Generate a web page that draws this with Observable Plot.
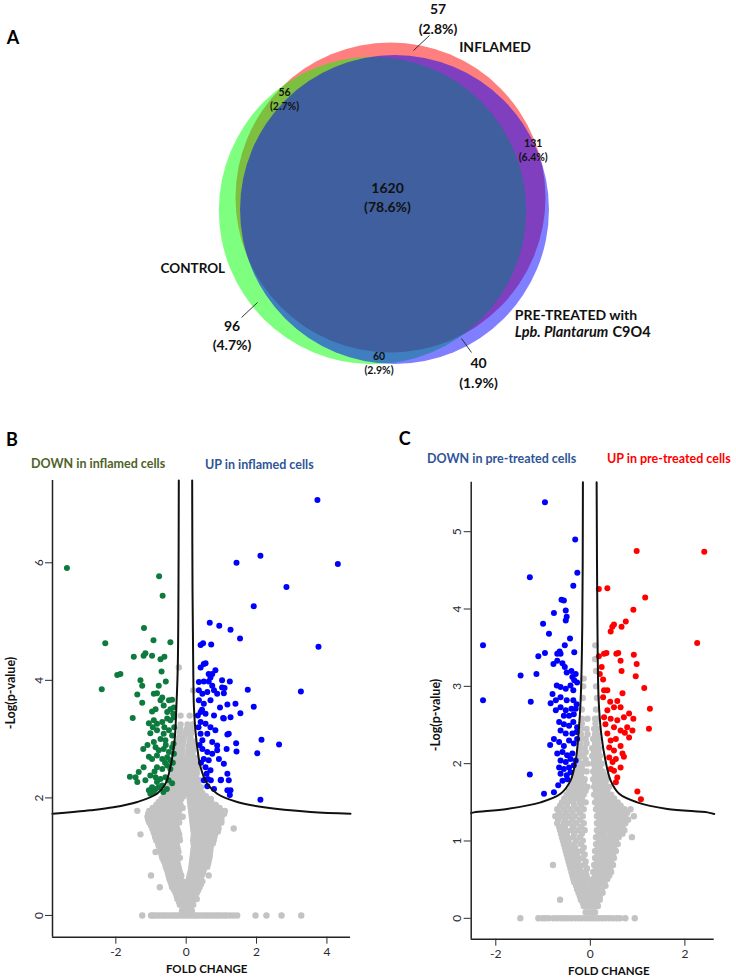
<!DOCTYPE html>
<html><head><meta charset="utf-8">
<script src="https://cdn.jsdelivr.net/npm/d3@7"></script>
<script src="https://cdn.jsdelivr.net/npm/@observablehq/plot@0.6"></script>
<style>
body{margin:0;background:#fff;}
#fig{position:relative;width:736px;height:978px;overflow:hidden;font-family:Lato,sans-serif;}
#fig svg{position:absolute;overflow:visible;}
</style></head><body><div id="fig"></div>
<script>
// ---------------- DATA ----------------
// Venn (panel A)
const vennSets = ["INFLAMED", "CONTROL", "PRE-TREATED"];
const vennSetKeys = ["I", "C", "P"];
const regionKeys = ["I", "C", "P", "IC", "IP", "CP", "ICP"];
const regionCounts = [57, 96, 40, 56, 131, 60, 1620];
const regionPct = ["2.8%", "4.7%", "1.9%", "2.7%", "6.4%", "2.9%", "78.6%"];

// Volcano B: inflamed vs control
const greenB = [[-3.39,5.91],[-0.77,5.77],[-0.67,5.44],[-1.20,4.89],[-2.30,4.63],[-0.93,4.68],[-0.45,4.65],
[-1.49,4.40],[-1.21,4.42],[-1.16,4.46],[-0.97,4.42],[-0.73,4.36],[-0.62,4.40],
[-1.96,4.09],[-1.87,4.11],[-0.70,4.15],[-2.40,3.85],[-1.30,4.0],[-1.25,3.91],[-0.78,3.91],[-0.58,3.98],
[-1.39,3.76],[-0.92,3.77],[-0.83,3.78],[-0.68,3.71],[-0.73,3.66],[-0.49,3.66],[-0.40,3.67],[-1.25,3.62],
[-0.97,3.47],[-0.87,3.51],[-0.64,3.57],[-0.54,3.46],[-0.45,3.51],[-0.35,3.54],[-0.37,3.43],[-1.52,3.36],
[-1.06,3.27],[-0.92,3.32],[-0.83,3.26],[-0.68,3.29],[-0.54,3.35],[-0.45,3.32],[-0.35,3.37],
[-1.02,3.10],[-0.83,3.15],[-0.64,3.09],[-0.49,3.15],[-0.40,3.06],[-0.73,3.00],[-0.59,2.98],
[-1.22,2.83],[-0.87,2.86],[-0.78,2.81],[-0.64,2.83],[-0.49,2.78],[-0.40,2.86],
[-1.06,2.70],[-0.97,2.66],[-0.83,2.72],[-0.68,2.66],[-0.54,2.69],[-0.45,2.64],[-0.35,2.75],
[-1.21,2.52],[-0.83,2.52],[-0.68,2.49],[-0.54,2.55],[-0.45,2.49],
[-1.60,2.36],[-1.44,2.35],[-1.35,2.44],[-1.16,2.30],[-1.39,2.27],
[-1.02,2.38],[-0.87,2.35],[-0.73,2.32],[-0.59,2.35],[-0.83,2.27],[-0.68,2.21],[-0.97,2.18],[-0.87,2.15],[-0.78,2.18],
[-1.06,2.13],[-0.92,2.10],[-1.02,2.07],
[-0.40,2.25],[-0.50,2.30],[-0.38,2.60],[-0.36,2.92],[-0.34,3.20],[-0.55,2.15],[-0.65,2.10],[-0.60,2.60],[-0.58,2.90],[-0.62,3.20],[-0.92,2.95],[-0.95,3.20],[-1.10,2.90],[-0.90,2.45]];

const blueB = [[3.73,7.07],[2.11,6.12],[1.43,6.00],[4.31,5.98],[2.85,5.59],[1.92,5.26],[0.67,4.98],[0.94,4.93],[1.26,4.86],[1.53,4.71],[3.76,4.57],
[0.41,4.60],[0.48,4.63],[0.71,4.61],
[0.41,4.22],[0.50,4.28],[0.55,4.29],[0.64,4.11],[0.83,4.17],[0.69,4.05],[0.74,4.11],
[0.36,3.97],[0.50,3.98],[0.64,3.98],[0.74,3.91],[1.02,4.0],[1.02,3.88],[1.24,3.98],[1.75,3.84],[3.26,3.81],
[0.36,3.83],[0.46,3.77],[0.60,3.80],[0.88,3.77],[1.07,3.78],[0.79,3.83],[1.09,3.87],
[0.36,3.66],[0.50,3.60],[0.69,3.66],[0.96,3.54],[1.17,3.59],[1.40,3.60],[1.92,3.55],[1.54,3.44],
[0.41,3.46],[0.55,3.43],[0.79,3.40],[1.07,3.35],[1.26,3.37],[1.05,3.36],
[0.41,3.29],[0.55,3.26],[0.69,3.20],[0.83,3.15],[0.60,3.09],[0.41,3.09],[1.21,3.09],[1.17,3.08],
[2.14,2.99],[2.64,2.91],[2.02,2.76],
[0.46,2.98],[0.74,2.95],[0.88,2.89],[1.15,2.83],[1.42,2.93],[1.43,2.79],[0.46,2.83],[0.60,2.78],[0.74,2.75],[0.88,2.81],
[0.50,2.66],[0.64,2.64],[0.93,2.66],[1.07,2.58],[1.17,2.41],[0.55,2.52],[0.69,2.47],[0.98,2.30],[0.79,2.15],[1.17,2.13],[1.24,2.05],[2.11,1.97],
[0.58,2.41],[0.61,2.32],[1.21,2.30],[1.26,2.13],[0.99,2.31],
[0.35,3.20],[0.38,2.90],[0.42,2.60],[0.50,2.30],[0.60,2.20],[0.70,2.30],[0.45,3.50],[0.33,3.40]];

// grey (not significant) points, rows: [y, x, x, ...]
const greyRowsB = [
[0,-1.25,-1.0,-0.95,-0.88,-0.8,-0.72,-0.65,-0.58,-0.5,-0.42,-0.35,-0.28,-0.2,-0.12,-0.05,0.02,0.1,0.18,0.25,0.32,0.4,0.48,0.55,0.62,0.7,0.78,0.85,0.92,1.0,1.08,1.15,1.25,1.35,1.45,1.97,2.28,2.71,3.27],
[0.08,-0.12,-0.05,0.03,0.1,0.16],
[0.13,-0.08,0.0,0.08],
[0.18,-0.18,-0.1,-0.02,0.06,0.14,0.2],
[0.23,-0.2,-0.12,-0.04,0.02,0.1,0.18],
[0.28,-0.25,-0.15,-0.06,0.04,0.12,0.22,0.3],
[0.33,-0.27,-0.18,-0.08,0.0,0.08,0.16,0.25],
[0.38,-0.3,-0.2,-0.1,0.0,0.1,0.2,0.3],
[0.43,-0.34,-0.24,-0.14,-0.04,0.04,0.14,0.24,0.34],
[0.48,-0.75,-0.4,-0.28,-0.16,-0.06,0.06,0.18,0.28,0.38],
[0.53,-0.42,-0.32,-0.2,-0.08,0.1,0.22,0.32,0.42],
[0.58,-0.45,-0.34,-0.22,-0.1,0.04,0.14,0.26,0.36,0.46],
[0.63,-0.48,-0.38,-0.28,-0.16,0.08,0.18,0.3,0.4],
[0.68,-1.0,-0.5,-0.38,-0.26,-0.14,0.1,0.2,0.32,0.44,0.64],
[0.73,-0.52,-0.42,-0.3,-0.18,0.12,0.24,0.36,0.48],
[0.78,-0.55,-0.44,-0.32,-0.2,0.14,0.26,0.38,0.5],
[0.83,-0.58,-0.46,-0.34,-0.22,0.15,0.27,0.39,0.51,0.6],
[0.88,-0.6,-0.48,-0.36,-0.24,0.16,0.28,0.4,0.52,0.62],
[0.93,-0.64,-0.52,-0.4,-0.26,0.17,0.29,0.41,0.53,0.64],
[0.98,-0.68,-0.56,-0.44,-0.3,-0.18,0.18,0.3,0.42,0.54,0.66],
[1.03,-0.7,-0.58,-0.46,-0.33,0.19,0.31,0.43,0.55,0.67],
[1.08,-0.87,-0.72,-0.6,-0.48,-0.36,-0.22,0.2,0.32,0.44,0.56,0.68],
[1.13,-0.74,-0.62,-0.5,-0.38,-0.24,0.21,0.33,0.45,0.57,0.69],
[1.18,-0.78,-0.66,-0.52,-0.4,-0.26,0.22,0.34,0.46,0.58,0.7],
[1.23,-0.8,-0.68,-0.55,-0.42,-0.28,0.21,0.32,0.44,0.56,0.68,0.76],
[1.28,-0.85,-0.72,-0.58,-0.44,-0.3,-0.18,0.2,0.3,0.42,0.54,0.66,0.78],
[1.33,-0.88,-0.74,-0.6,-0.46,-0.32,-0.2,0.21,0.32,0.44,0.56,0.68,0.8],
[1.38,-1.3,-0.9,-0.76,-0.62,-0.48,-0.34,-0.2,0.22,0.34,0.46,0.58,0.7,0.82],
[1.43,-0.93,-0.79,-0.65,-0.51,-0.37,-0.23,0.21,0.33,0.45,0.57,0.69,0.81,0.9],
[1.48,-0.96,-0.82,-0.68,-0.54,-0.4,-0.26,0.2,0.32,0.44,0.56,0.68,0.8,0.92,1.35],
[1.53,-1.0,-0.86,-0.72,-0.58,-0.44,-0.3,0.19,0.31,0.43,0.55,0.67,0.79,0.91],
[1.58,-1.05,-0.9,-0.76,-0.62,-0.48,-0.34,-0.2,0.18,0.3,0.42,0.54,0.66,0.78,0.9,1.0],
[1.63,-1.08,-0.93,-0.78,-0.64,-0.5,-0.36,-0.22,0.17,0.29,0.41,0.53,0.65,0.77,0.89,1.0],
[1.68,-1.1,-0.95,-0.8,-0.66,-0.52,-0.38,-0.24,-0.1,0.16,0.28,0.4,0.52,0.64,0.76,0.88,1.0],
[1.73,-1.08,-0.93,-0.78,-0.64,-0.5,-0.36,-0.22,0.15,0.27,0.39,0.51,0.63,0.75,0.87,0.99,1.08],
[1.78,-1.39,-1.05,-0.9,-0.76,-0.62,-0.48,-0.34,-0.2,0.14,0.26,0.38,0.5,0.62,0.74,0.86,0.98,1.1],
[1.83,-0.95,-0.8,-0.66,-0.52,-0.38,-0.24,-0.1,0.13,0.25,0.37,0.49,0.61,0.73,0.85,0.95],
[1.88,-0.85,-0.72,-0.58,-0.44,-0.3,-0.16,0.12,0.24,0.36,0.48,0.6,0.72,0.84],
[1.93,-0.78,-0.64,-0.5,-0.36,-0.22,0.11,0.23,0.35,0.47,0.59,0.71],
[1.98,-0.7,-0.56,-0.42,-0.28,-0.14,0.1,0.22,0.34,0.46,0.58,0.7],
[2.03,-0.64,-0.5,-0.36,-0.22,-0.08,0.1,0.22,0.34,0.46,0.56],
[2.08,-0.6,-0.46,-0.32,-0.18,-0.04,0.1,0.22,0.34,0.46],
[2.13,-0.54,-0.42,-0.28,-0.14,0.04,0.14,0.26,0.38],
[2.18,-0.5,-0.38,-0.24,-0.1,0.06,0.18,0.3,0.42],
[2.24,-0.46,-0.34,-0.2,-0.06,0.1,0.22,0.34],
[2.3,-0.42,-0.3,-0.16,0.0,0.14,0.26,0.38],
[2.36,-0.38,-0.26,-0.12,0.02,0.16,0.28],
[2.42,-0.36,-0.24,-0.1,0.04,0.18,0.3],
[2.48,-0.32,-0.2,-0.08,0.06,0.2,0.3],
[2.55,-0.3,-0.18,-0.06,0.1,0.22,0.3],
[2.62,-0.28,-0.16,-0.02,0.13,0.25],
[2.68,-0.28,-0.16,0.0,0.16,0.26],
[2.75,-0.27,-0.14,0.03,0.18],
[2.82,-0.26,-0.12,0.06,0.2],
[2.89,-0.24,-0.1,0.08,0.21],
[2.96,-0.22,-0.08,0.1,0.22],
[3.03,-0.2,-0.05,0.12],
[3.1,-0.18,-0.02,0.14],
[3.17,-0.17,0.01,0.16],
[3.25,-0.16,0.04,0.18],
[3.4,-0.16,0.1],
[3.83,0.2],
[4.22,-0.21]];

// significance threshold curves
const curveBLeft = [[-3.8,1.73],[-2.72,1.79],[-2.07,1.84],[-1.39,1.93],[-0.83,2.07],[-0.59,2.24],[-0.45,2.52],[-0.33,2.98],[-0.28,3.54],[-0.24,4.22],[-0.22,5.5],[-0.21,7.4]];
const curveBRight = [[0.17,7.4],[0.18,5.5],[0.2,4.22],[0.22,3.54],[0.29,2.98],[0.41,2.52],[0.6,2.24],[0.88,2.07],[1.45,1.93],[2.21,1.84],[3.54,1.76],[4.67,1.73]];

// Volcano C: pre-treated vs inflamed
const blueC = [[-0.96,5.38],[-0.32,4.90],[-1.28,4.41],[-0.275,4.47],[-0.36,4.30],[-0.61,4.12],[-0.56,4.11],[-0.77,3.95],[-0.52,3.98],[-0.50,3.90],[-0.52,3.85],[-1.00,3.81],[-0.875,3.68],[-0.43,3.62],[-2.27,3.53],
[-0.65,3.45],[-0.70,3.42],[-0.63,3.42],[-0.54,3.53],[-0.34,3.44],[-1.10,3.39],[-0.96,3.43],
[-0.78,3.29],[-0.70,3.33],[-0.59,3.30],[-0.54,3.25],[-0.50,3.18],[-0.40,3.20],[-0.31,3.16],[-0.38,3.12],[-0.28,3.05],[-0.34,3.08],[-1.475,3.14],[-1.14,3.16],
[-2.27,2.82],[-1.26,2.80],
[-0.71,3.01],[-0.63,2.99],[-0.52,2.97],[-0.36,2.95],[-0.42,3.01],
[-0.80,2.90],[-0.84,2.78],[-0.73,2.82],[-0.63,2.86],[-0.50,2.82],[-0.36,2.82],[-0.29,2.77],
[-0.73,2.69],[-0.63,2.73],[-0.52,2.69],[-0.40,2.71],[-0.31,2.71],[-0.56,2.62],[-0.45,2.62],[-0.35,2.64],
[-0.66,2.54],[-0.56,2.51],[-0.45,2.49],[-0.36,2.54],[-0.28,2.47],[-0.63,2.43],[-0.52,2.39],[-0.38,2.39],[-0.29,2.41],
[-0.77,2.32],[-0.85,2.24],[-0.66,2.28],[-0.56,2.23],[-0.45,2.30],[-0.35,2.26],[-0.28,2.32],
[-0.70,2.13],[-0.59,2.15],[-0.49,2.11],[-0.38,2.13],[-0.63,2.04],[-0.52,2.02],[-0.42,2.06],[-0.31,2.04],
[-0.66,1.95],[-0.56,1.93],[-0.45,1.95],[-0.35,1.98],[-0.63,1.87],[-0.50,1.85],[-0.42,1.89],[-1.28,1.86],
[-0.59,1.78],[-0.49,1.80],[-0.68,1.72],[-0.77,1.63],[-0.98,1.61]];

const redC = [[0.98,4.75],[2.41,4.74],[0.18,4.26],[0.36,4.27],[1.16,4.15],[0.91,3.99],[0.75,3.84],[0.66,3.77],[0.50,3.80],[0.465,3.77],[0.43,3.71],[2.26,3.56],
[0.29,3.42],[0.34,3.43],[0.18,3.39],[0.55,3.42],[0.59,3.43],[0.64,3.33],[0.92,3.41],[0.98,3.29],
[0.24,3.25],[0.20,3.16],[0.27,3.09],[0.66,3.20],[0.96,3.13],[1.14,2.98],
[0.68,2.91],[0.29,2.95],[0.36,2.95],[1.26,2.71],[1.24,2.45],
[0.27,2.86],[0.42,2.80],[0.57,2.81],[0.64,2.73],[0.50,2.73],[0.36,2.69],[0.82,2.65],[0.91,2.58],
[0.29,2.60],[0.43,2.58],[0.57,2.56],[0.71,2.60],[0.32,2.51],[0.50,2.47],[0.64,2.43],[0.78,2.47],[0.89,2.43],[0.82,2.34],[0.73,2.40],
[0.36,2.39],[0.43,2.30],[0.54,2.32],[0.64,2.23],[0.40,2.21],[0.50,2.17],[0.68,2.13],[0.71,2.09],
[0.40,2.08],[0.47,2.02],[0.54,2.06],[0.43,1.93],[0.50,1.91],[0.57,1.82],[0.54,1.76],[0.64,1.95],
[0.995,1.64],[1.07,1.54]];

const greyRowsC = [
[0,-1.48,-1.1,-1.02,-0.95,-0.88,-0.78,-0.7,-0.62,-0.55,-0.48,-0.4,-0.32,-0.25,-0.18,-0.1,-0.03,0.04,0.11,0.18,0.25,0.32,0.4,0.48,0.56,0.63,0.74,0.94],
[0.08,-0.1,-0.03,0.04,0.1],
[0.16,-0.14,-0.06,0.02,0.1,0.16],
[0.2,-0.16,-0.08,0.0,0.08,0.14],
[0.24,-0.64,-0.2,-0.12,-0.04,0.04,0.12,0.2],
[0.285,-0.22,-0.1,0.0,0.08,0.2],
[0.33,-0.25,-0.16,-0.08,0.02,0.1,0.18,0.26],
[0.375,-0.28,-0.18,-0.04,0.06,0.16,0.24],
[0.42,-0.3,-0.2,-0.1,0.04,0.14,0.24,0.32],
[0.465,-0.34,-0.24,-0.12,0.0,0.1,0.2,0.3],
[0.51,-0.36,-0.26,-0.16,-0.06,0.06,0.16,0.26,0.36],
[0.555,-0.38,-0.28,-0.18,-0.08,0.1,0.2,0.3,0.4],
[0.6,-0.4,-0.3,-0.2,-0.1,0.06,0.16,0.26,0.36,0.44],
[0.645,-0.42,-0.32,-0.22,-0.07,0.12,0.22,0.32,0.42],
[0.69,-0.79,-0.44,-0.34,-0.24,-0.12,0.08,0.18,0.28,0.38,0.48],
[0.735,-0.46,-0.36,-0.26,-0.1,0.14,0.24,0.34,0.44],
[0.78,-0.48,-0.38,-0.28,-0.16,0.1,0.2,0.3,0.4,0.5],
[0.825,-0.5,-0.4,-0.28,-0.12,0.16,0.26,0.36,0.48],
[0.87,-0.52,-0.42,-0.3,-0.18,0.1,0.22,0.32,0.42,0.54],
[0.915,-0.54,-0.44,-0.32,-0.14,0.16,0.28,0.38,0.5],
[0.96,-0.56,-0.46,-0.34,-0.2,0.12,0.24,0.34,0.46,0.58],
[1.005,-0.58,-0.46,-0.3,-0.16,0.18,0.3,0.42,0.54],
[1.05,-0.6,-0.48,-0.36,-0.22,0.12,0.24,0.36,0.48,0.6,0.88],
[1.095,-0.62,-0.5,-0.34,-0.18,0.18,0.3,0.44,0.56,0.68],
[1.14,-0.64,-0.52,-0.4,-0.26,-0.12,0.14,0.26,0.38,0.5,0.62,0.72],
[1.185,-0.66,-0.54,-0.36,-0.2,0.2,0.32,0.44,0.56,0.68],
[1.23,-0.7,-0.56,-0.44,-0.3,-0.14,0.14,0.26,0.38,0.5,0.62,0.74],
[1.275,-0.68,-0.54,-0.38,-0.22,0.2,0.32,0.44,0.56,0.68,0.8],
[1.32,-0.74,-0.6,-0.46,-0.32,-0.16,0.14,0.26,0.38,0.5,0.62,0.74,0.92],
[1.365,-0.66,-0.52,-0.38,-0.22,0.18,0.3,0.42,0.54,0.66,0.78],
[1.41,-0.7,-0.56,-0.42,-0.28,-0.14,0.12,0.24,0.36,0.48,0.6,0.72,0.85],
[1.455,-0.64,-0.5,-0.34,-0.2,0.16,0.28,0.4,0.52,0.64],
[1.5,-0.6,-0.48,-0.36,-0.22,-0.1,0.1,0.22,0.34,0.46,0.58],
[1.55,-0.55,-0.42,-0.3,-0.18,0.14,0.26,0.38,0.5],
[1.6,-0.5,-0.38,-0.26,-0.14,0.08,0.2,0.32,0.44],
[1.65,-0.45,-0.34,-0.22,-0.1,0.12,0.24,0.36],
[1.7,-0.4,-0.3,-0.18,-0.06,0.08,0.18,0.3,0.4],
[1.75,-0.38,-0.26,-0.14,0.1,0.22,0.32],
[1.8,-0.34,-0.24,-0.12,0.06,0.16,0.26,0.34],
[1.85,-0.32,-0.2,0.1,0.2,0.3],
[1.9,-0.3,-0.2,-0.08,0.06,0.16,0.26],
[1.95,-0.28,-0.18,0.1,0.2],
[2.0,-0.26,-0.16,-0.06,0.06,0.16,0.24],
[2.05,-0.25,-0.1,0.08,0.18],
[2.1,-0.24,-0.14,0.04,0.14,0.2],
[2.15,-0.23,-0.1,0.08,0.17],
[2.2,-0.22,-0.12,0.04,0.14,0.18],
[2.26,-0.21,-0.08,0.1,0.16],
[2.32,-0.2,-0.1,0.06,0.16],
[2.38,-0.2,-0.06,0.1,0.15],
[2.45,-0.19,-0.08,0.08,0.15],
[2.52,-0.18,0.11],
[2.58,-0.18,-0.06,0.1,0.15],
[2.7,-0.18,0.12],
[2.85,-0.16,0.14],
[3.0,-0.15,0.12],
[3.1,-0.14],
[3.2,0.12],
[3.35,0.1],
[3.53,0.105]];

const curveCLeft = [[-2.52,1.36],[-2.46,1.37],[-1.76,1.415],[-1.05,1.50],[-0.63,1.61],[-0.42,1.78],[-0.31,2.04],[-0.25,2.39],[-0.205,2.82],[-0.17,3.8],[-0.157,5.64]];
const curveCRight = [[0.133,5.64],[0.15,3.8],[0.176,2.82],[0.23,2.39],[0.32,2.04],[0.43,1.78],[0.61,1.61],[0.99,1.50],[1.63,1.415],[2.48,1.37],[2.62,1.35]];

const ticksBX = [-2, 0, 2, 4], ticksBY = [0, 2, 4, 6];
const ticksCX = [-2, 0, 2], ticksCY = [0, 1, 2, 3, 4, 5];

// ---------------- BUILD ----------------
const fig = document.getElementById("fig");
const toPts = a => a.map(([x, y]) => ({x, y}));
const rowsToPts = rows => rows.flatMap(([y, ...xs]) => xs.map(x => ({x, y})));
const FONT = "Lato, 'Open Sans', sans-serif";

// ---- Panel A: Venn ----
const setTotals = vennSetKeys.map(k => d3.sum(regionKeys.map((rk, i) => rk.includes(k) ? regionCounts[i] : 0)));
// layout of the drawing (pixel units of the figure)
const vennLayout = {
  centers: {I: [390, 197], C: [372, 210], P: [394, 209]},
  baseR: 155, baseKey: "I",
  colors: {I: "#ff0000", C: "#00ff00", P: "#0000ff"},
  labels: {I: [437.5, 33.5, 14, 1.43], C: [231.5, 349.3, 14, 1.38], P: [478, 387, 14, 1.43],
           IC: [284, 109, 10.5, 1.33], IP: [532.7, 160.7, 10.5, 1.33], CP: [378.5, 373, 10.5, 1.33], ICP: [387, 211.7, 14, 1.36]},
  leaders: [{k: "I", x1: 429, y1: 35, x2: 413, y2: 50}, {k: "C", x1: 257, y1: 302, x2: 241, y2: 317}, {k: "P", x1: 461, y1: 338, x2: 471, y2: 352}]
};
const baseTotal = setTotals[vennSetKeys.indexOf(vennLayout.baseKey)];
const circles = vennSetKeys.map((k, i) => ({
  key: k, name: vennSets[i],
  x: vennLayout.centers[k][0], y: vennLayout.centers[k][1],
  r: vennLayout.baseR * Math.sqrt(setTotals[i] / baseTotal),
  fill: vennLayout.colors[k]
}));
const regionLabels = regionKeys.map((k, i) => {
  const [x, y, fs, lh] = vennLayout.labels[k];
  return {x, y, fs, lh, text: `${regionCounts[i]}\n(${regionPct[i]})`};
});
const bigLabels = regionLabels.filter(d => d.fs > 12);
const smallLabels = regionLabels.filter(d => d.fs <= 12);

const venn = Plot.plot({
  width: 736, height: 420, margin: 0,
  x: {domain: [0, 736], range: [0, 736], axis: null},
  y: {domain: [0, 420], range: [0, 420], axis: null},
  r: {type: "identity"},
  style: {fontFamily: FONT, background: "transparent"},
  marks: [
    Plot.dot(circles, {x: "x", y: "y", r: "r", fill: "fill", fillOpacity: 0.5, sort: null}),
    Plot.link(vennLayout.leaders, {x1: "x1", y1: "y1", x2: "x2", y2: "y2", stroke: "#222", strokeWidth: 0.9}),
    Plot.text(bigLabels.filter(d => d.lh > 1.4), {x: "x", y: "y", text: "text", fontSize: 14, fontWeight: "bold", lineAnchor: "bottom", lineHeight: 1.4, fill: "#111"}),
    Plot.text(bigLabels.filter(d => d.lh <= 1.4), {x: "x", y: "y", text: "text", fontSize: 14, fontWeight: "bold", lineAnchor: "bottom", lineHeight: 1.37, fill: "#111"}),
    Plot.text(smallLabels, {x: "x", y: "y", text: "text", fontSize: 10.5, fontWeight: "bold", lineAnchor: "bottom", lineHeight: 1.33, fill: "#111"}),
    Plot.text([vennSets[0]], {x: 458.7, y: 51.7, text: d => d, textAnchor: "start", lineAnchor: "bottom", fontSize: 14, fontWeight: "bold", fill: "#111"}),
    Plot.text([vennSets[1]], {x: 160, y: 272.7, text: d => d, textAnchor: "start", lineAnchor: "bottom", fontSize: 13.5, fontWeight: "bold", fill: "#111"}),
    Plot.text([vennSets[2] + " with"], {x: 514.3, y: 319, text: d => d, textAnchor: "start", lineAnchor: "bottom", fontSize: 14, fontWeight: "bold", fill: "#111"}),
    Plot.text(["Lpb. Plantarum"], {x: 514.3, y: 336, text: d => d, textAnchor: "start", lineAnchor: "bottom", fontSize: 14.5, fontWeight: "bold", fontStyle: "italic", fill: "#111"}),
    Plot.text(["C9O4"], {x: 612, y: 336, text: d => d, textAnchor: "start", lineAnchor: "bottom", fontSize: 14.5, fontWeight: "bold", fill: "#111"}),
    Plot.text(["A"], {x: 12.5, y: 43, text: d => d, lineAnchor: "bottom", fontSize: 18, fontWeight: "bold", fill: "#000"})
  ]
});
venn.style.left = "0px"; venn.style.top = "0px";
fig.appendChild(venn);

// ---- Volcano helper ----
function volcano({left, top, margins, xDomain, yDomain, xTicks, yTicks, grey, down, up, downColor, upColor, curveL, curveR}) {
  const [mt, mr, mb, ml] = margins;
  const svg = Plot.plot({
    width: 368, height: 538, marginTop: mt, marginRight: mr, marginBottom: mb, marginLeft: ml,
    x: {domain: xDomain}, y: {domain: yDomain},
    style: {fontFamily: FONT, fontSize: "12px", color: "#2a2a35", background: "transparent"},
    marks: [
      Plot.dot(grey, {x: "x", y: "y", r: 3.2, fill: "#c3c3c3"}),
      Plot.dot(down, {x: "x", y: "y", r: 3, fill: downColor}),
      Plot.dot(up, {x: "x", y: "y", r: 3, fill: upColor}),
      Plot.line(curveL, {x: "x", y: "y", stroke: "#111", strokeWidth: 2, curve: "catmull-rom"}),
      Plot.line(curveR, {x: "x", y: "y", stroke: "#111", strokeWidth: 2, curve: "catmull-rom"}),
      Plot.ruleX([xDomain[0]], {stroke: "#222", strokeWidth: 1.5}),
      Plot.ruleY([yDomain[0]], {stroke: "#222", strokeWidth: 1.5}),
      Plot.axisX({ticks: xTicks, tickSize: 7, tickPadding: 3, label: null, fontSize: 12, tickFormat: d => String(d)}),
      Plot.axisY({ticks: yTicks, tickSize: 7, tickPadding: 3, tickRotate: -90, label: null, fontSize: 12, tickFormat: d => String(d)})
    ]
  });
  svg.style.left = left + "px"; svg.style.top = top + "px";
  fig.appendChild(svg);
}

volcano({left: 0, top: 440, margins: [40, 18, 41.3, 52], xDomain: [-3.8, 4.67], yDomain: [-0.37, 7.4],
  xTicks: ticksBX, yTicks: ticksBY, grey: rowsToPts(greyRowsB), down: toPts(greenB), up: toPts(blueB),
  downColor: "#0d7a3e", upColor: "#0000ff", curveL: toPts(curveBLeft), curveR: toPts(curveBRight)});

volcano({left: 368, top: 440, margins: [41.7, 22.3, 39.3, 102.7], xDomain: [-2.52, 2.62], yDomain: [-0.27, 5.64],
  xTicks: ticksCX, yTicks: ticksCY, grey: rowsToPts(greyRowsC), down: toPts(blueC), up: toPts(redC),
  downColor: "#0000ff", upColor: "#ff0000", curveL: toPts(curveCLeft), curveR: toPts(curveCRight)});

// ---- Annotation texts (titles, panel letters, axis labels) ----
const notes = [
  {t: "B", x: 12, y: 446, fs: 18, a: "middle", c: "#000"},
  {t: "C", x: 404.7, y: 445, fs: 18, a: "middle", c: "#000"},
  {t: "DOWN in inflamed cells", x: 31, y: 468.3, fs: 12.5, a: "start", c: "#4f6228"},
  {t: "UP in inflamed cells", x: 205, y: 469.3, fs: 12.5, a: "start", c: "#2f5597"},
  {t: "DOWN in pre-treated cells", x: 427, y: 463, fs: 12.5, a: "start", c: "#2f5597"},
  {t: "UP in pre-treated cells", x: 607, y: 463, fs: 12.5, a: "start", c: "#ff0000"},
  {t: "FOLD CHANGE", x: 206.7, y: 972.5, fs: 11.5, a: "middle", c: "#111"},
  {t: "FOLD CHANGE", x: 608.8, y: 975, fs: 11.5, a: "middle", c: "#111"},
  {t: "-Log(p-value)", x: 15, y: 693, fs: 12.5, a: "middle", c: "#111", rot: true},
  {t: "-Log(p-value)", x: 440, y: 715, fs: 12.5, a: "middle", c: "#111", rot: true}
];
const ov = d3.create("svg").attr("width", 736).attr("height", 978)
  .style("left", "0px").style("top", "0px").style("pointer-events", "none");
ov.selectAll("text").data(notes).join("text")
  .attr("transform", d => `translate(${d.x},${d.y})` + (d.rot ? " rotate(-90)" : ""))
  .attr("text-anchor", d => d.a).attr("font-family", FONT).attr("font-weight", "bold")
  .attr("font-size", d => d.fs).attr("fill", d => d.c).text(d => d.t);
fig.appendChild(ov.node());
</script></body></html>
